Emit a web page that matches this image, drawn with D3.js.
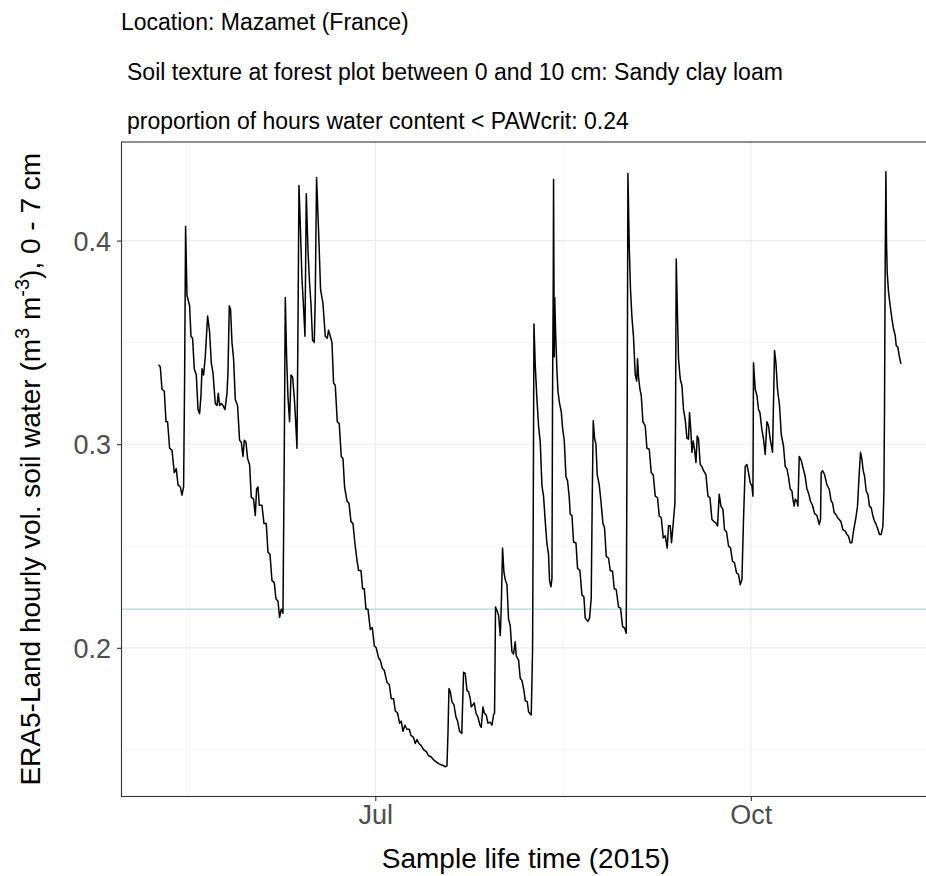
<!DOCTYPE html>
<html>
<head>
<meta charset="utf-8">
<script src="https://cdn.jsdelivr.net/npm/d3@7/dist/d3.min.js"></script>
<style>
  html, body { margin: 0; padding: 0; background: #ffffff; }
  svg { display: block; font-family: "Liberation Sans", Arial, Helvetica, sans-serif; }
</style>
</head>
<body>
<svg id="chart" width="926" height="876"></svg>
<script>
// Header lines above the panel
const headerLines = [
  "Location: Mazamet (France)",
  "Soil texture at forest plot between 0 and 10 cm: Sandy clay loam",
  "proportion of hours water content < PAWcrit: 0.24"
];

// Sample time, as days elapsed since 2015-01-01 00:00 UTC
const sampleDay = [
  127.93,128.34,128.76,129.32,129.74,130.13,130.62,131.21,131.77,132.26,132.68,133.24,133.66,134.05,134.29,134.54,134.88,135.27,135.52,135.86,
  136.25,136.67,137.16,137.58,137.97,138.31,138.56,138.95,139.36,139.93,140.42,140.83,141.25,141.81,142.23,142.55,142.87,143.28,143.70,144.19,
  144.68,144.92,145.24,145.56,145.90,146.29,146.71,147.27,147.76,148.18,148.60,148.92,149.33,149.72,150.21,150.63,151.19,151.61,151.93,152.27,
  152.59,153.25,153.74,154.30,154.72,155.21,155.70,156.26,156.68,157.17,157.56,157.98,158.39,158.71,158.96,159.28,159.62,160.01,160.35,160.75,
  161.16,161.48,161.82,162.07,162.31,162.63,163.05,163.44,163.78,164.10,164.52,164.91,165.25,165.64,166.06,166.30,166.62,167.11,167.60,168.19,
  168.75,169.24,169.56,169.98,170.39,170.79,171.20,171.69,172.18,172.67,173.09,173.48,174.07,174.56,175.05,175.54,176.03,176.52,176.91,177.50,
  177.89,178.31,178.72,179.21,179.78,180.27,180.76,181.24,181.81,182.22,182.71,183.20,183.87,184.43,184.92,185.48,185.90,186.46,186.95,187.37,
  187.78,188.27,188.76,189.33,189.74,190.38,190.80,191.21,191.70,192.27,192.83,193.49,194.05,194.64,195.28,195.94,196.60,197.34,198.14,198.56,
  198.81,199.05,199.37,199.79,200.28,200.77,201.16,201.65,202.19,202.63,203.04,203.46,203.85,204.27,204.51,204.93,205.25,205.66,206.15,206.64,
  206.96,207.38,207.70,208.19,208.60,209.17,209.58,209.97,210.22,210.46,210.88,211.20,211.62,211.86,212.18,212.52,212.84,213.26,213.65,214.06,
  214.48,214.87,215.29,215.53,216.10,216.51,216.93,217.42,217.74,218.23,218.55,219.21,219.53,219.70,219.87,220.19,220.60,221.00,221.41,221.83,
  222.22,222.64,223.05,223.44,223.69,224.03,224.28,224.42,224.60,224.67,224.84,224.96,225.16,225.50,225.75,226.14,226.56,226.87,227.29,227.71,
  228.10,228.51,228.76,229.18,229.57,230.16,230.55,231.13,231.62,232.11,232.43,233.09,233.49,233.90,234.15,234.39,234.71,235.05,235.37,235.86,
  236.28,236.77,237.16,237.58,238.14,238.56,239.12,239.54,240.03,240.59,241.08,241.57,242.06,242.47,242.72,242.89,243.21,243.53,243.87,244.26,
  244.68,245.05,245.24,245.49,245.83,246.15,246.56,247.13,247.54,248.11,248.60,249.09,249.58,250.14,250.56,251.05,251.54,252.03,252.52,252.83,
  253.25,253.57,254.06,254.40,254.55,254.72,254.97,255.28,255.70,256.12,256.51,256.93,257.34,257.73,257.98,258.32,258.57,258.88,259.20,259.55,
  259.86,260.18,260.60,261.01,261.41,262.00,262.49,262.98,263.47,263.95,264.44,264.84,265.25,265.67,266.16,266.55,267.04,267.53,268.02,268.51,
  269.00,269.49,269.98,270.40,270.81,271.20,271.62,272.04,272.43,272.85,273.26,273.51,273.65,274.07,274.49,274.88,275.22,275.71,276.10,276.52,
  276.93,277.33,277.74,278.31,278.80,279.14,279.53,280.02,280.44,281.00,281.42,281.83,282.22,282.64,283.06,283.30,283.62,283.87,284.28,284.53,
  284.85,285.34,285.83,286.32,286.73,287.12,287.61,288.10,288.59,289.18,289.74,290.06,290.23,290.55,291.04,291.63,292.19,292.68,293.00,293.42,
  293.83,294.23,294.64,295.06,295.55,296.11,296.53,296.92,297.34,297.75,298.14,298.73,299.13,299.47,299.86,300.20,300.52,300.84,301.26,301.67,
  302.06,302.48,302.90,303.29,303.70,304.12,304.51,304.93,305.35,305.59,305.74,305.91,306.08,306.23,306.40,306.72,307.13,307.55,307.94,308.36,
  308.60,309.02,309.34,309.75
];

// Volumetric soil water content (m3 m-3), 0 - 7 cm
const soilWater = [
  0.339,0.338,0.327,0.326,0.311,0.311,0.298,0.297,0.286,0.288,0.280,0.279,0.275,0.279,0.330,0.407,0.373,0.370,0.368,0.353,
  0.352,0.337,0.334,0.317,0.315,0.324,0.337,0.334,0.343,0.363,0.355,0.340,0.335,0.320,0.319,0.325,0.319,0.320,0.319,0.317,
  0.325,0.335,0.368,0.366,0.350,0.342,0.322,0.319,0.302,0.301,0.294,0.302,0.301,0.293,0.290,0.274,0.273,0.265,0.278,0.279,
  0.270,0.270,0.261,0.261,0.247,0.246,0.233,0.232,0.224,0.223,0.215,0.219,0.217,0.295,0.372,0.343,0.323,0.311,0.334,0.333,
  0.323,0.312,0.298,0.358,0.427,0.408,0.381,0.367,0.353,0.423,0.395,0.379,0.369,0.351,0.350,0.372,0.431,0.405,0.376,0.369,
  0.353,0.352,0.356,0.353,0.350,0.330,0.329,0.311,0.310,0.294,0.293,0.279,0.272,0.271,0.262,0.261,0.251,0.243,0.238,0.238,
  0.229,0.229,0.219,0.219,0.209,0.210,0.201,0.200,0.195,0.194,0.190,0.189,0.183,0.182,0.175,0.175,0.169,0.168,0.163,0.164,
  0.159,0.162,0.160,0.160,0.157,0.156,0.153,0.155,0.153,0.152,0.150,0.149,0.147,0.1465,0.145,0.144,0.143,0.1425,0.1416,0.142,
  0.158,0.180,0.1785,0.1735,0.172,0.166,0.164,0.159,0.158,0.188,0.1875,0.179,0.1785,0.175,0.171,0.172,0.173,0.168,0.166,0.162,
  0.161,0.171,0.168,0.167,0.163,0.1635,0.162,0.167,0.168,0.220,0.218,0.216,0.206,0.220,0.249,0.237,0.2335,0.231,0.214,0.211,
  0.198,0.197,0.203,0.196,0.194,0.185,0.184,0.179,0.174,0.1736,0.1686,0.167,0.199,0.268,0.359,0.3386,0.322,0.309,0.301,0.2795,
  0.2745,0.262,0.251,0.246,0.233,0.230,0.234,0.323,0.3805,0.430,0.343,0.372,0.356,0.336,0.326,0.320,0.316,0.308,0.302,0.284,
  0.282,0.274,0.2655,0.265,0.252,0.2515,0.239,0.238,0.226,0.225,0.2146,0.213,0.2146,0.2245,0.274,0.3115,0.303,0.300,0.285,0.280,
  0.272,0.261,0.259,0.245,0.244,0.238,0.2376,0.229,0.2286,0.220,0.2195,0.2105,0.2097,0.2072,0.323,0.433,0.397,0.3755,0.3624,0.3525,
  0.334,0.331,0.342,0.333,0.327,0.324,0.311,0.309,0.298,0.2975,0.286,0.285,0.2745,0.2737,0.2647,0.264,0.254,0.255,0.249,0.260,
  0.260,0.2516,0.263,0.271,0.312,0.391,0.368,0.342,0.332,0.3287,0.317,0.312,0.303,0.3025,0.3156,0.306,0.296,0.3016,0.2975,0.291,
  0.304,0.3025,0.290,0.289,0.287,0.285,0.2745,0.2737,0.263,0.262,0.2614,0.2598,0.2754,0.2696,0.268,0.258,0.257,0.250,0.249,0.2425,
  0.2417,0.2368,0.236,0.231,0.2335,0.263,0.289,0.290,0.286,0.281,0.2795,0.2745,0.340,0.327,0.324,0.317,0.3156,0.307,0.3025,0.295,
  0.311,0.309,0.3025,0.296,0.346,0.340,0.327,0.319,0.305,0.299,0.289,0.288,0.284,0.278,0.277,0.273,0.2696,0.273,0.272,0.2696,
  0.294,0.292,0.288,0.284,0.278,0.276,0.272,0.270,0.266,0.265,0.2606,0.263,0.286,0.287,0.2852,0.280,0.278,0.272,0.2713,0.2663,
  0.2655,0.264,0.263,0.262,0.258,0.2573,0.2557,0.2548,0.2516,0.2516,0.2573,0.264,0.2696,0.283,0.296,0.2926,0.287,0.2844,0.277,0.2754,
  0.2696,0.2688,0.2647,0.2622,0.2606,0.2581,0.2557,0.2557,0.2598,0.2762,0.317,0.391,0.4338,0.399,0.3846,0.3747,0.368,0.3616,0.3567,0.3534,
  0.3485,0.3476,0.3435,0.3394
];

// Critical plant-available water threshold
const pawCrit = 0.219;

// Axis breaks
const yMajor = [0.2, 0.3, 0.4];
const yMinor = [0.15, 0.25, 0.35];
const xMajor = ["2015-07-01", "2015-10-01"];
const xMajorLabels = ["Jul", "Oct"];
const xMinor = ["2015-05-16T12:00:00Z", "2015-08-16T00:00:00Z"];

const DAY = 864e5;
const origin = Date.UTC(2015, 0, 1);
const data = sampleDay.map((d, i) => ({ t: new Date(origin + d * DAY), v: soilWater[i] }));

const svg = d3.select("#chart");

// Panel box
const panel = { left: 121.5, top: 142, bottom: 796.5, right: 938 };

// Scales with 5% expansion on each side of the data range
const tExt = d3.extent(data, d => d.t);
const tPad = (tExt[1] - tExt[0]) * 0.05;
const x = d3.scaleUtc()
  .domain([new Date(+tExt[0] - tPad), new Date(+tExt[1] + tPad)])
  .range([panel.left, panel.right]);

const vExt = d3.extent(data, d => d.v);
const vPad = (vExt[1] - vExt[0]) * 0.05;
const y = d3.scaleLinear()
  .domain([vExt[0] - vPad, vExt[1] + vPad])
  .range([panel.bottom, panel.top]);

const gridColor = "#ebebeb";
const inkColor = "#333333";
const labelColor = "#4d4d4d";

// Panel background
svg.append("rect")
  .attr("x", panel.left).attr("y", panel.top)
  .attr("width", panel.right - panel.left).attr("height", panel.bottom - panel.top)
  .attr("fill", "#ffffff");

// Grid lines
const grid = svg.append("g");
grid.selectAll(".ymin").data(yMinor).join("line")
  .attr("x1", panel.left).attr("x2", panel.right)
  .attr("y1", d => y(d)).attr("y2", d => y(d))
  .attr("stroke", gridColor).attr("stroke-width", 0.55);
grid.selectAll(".xmin").data(xMinor).join("line")
  .attr("x1", d => x(new Date(d))).attr("x2", d => x(new Date(d)))
  .attr("y1", panel.top).attr("y2", panel.bottom)
  .attr("stroke", gridColor).attr("stroke-width", 0.55);
grid.selectAll(".ymaj").data(yMajor).join("line")
  .attr("x1", panel.left).attr("x2", panel.right)
  .attr("y1", d => y(d)).attr("y2", d => y(d))
  .attr("stroke", gridColor).attr("stroke-width", 1.1);
grid.selectAll(".xmaj").data(xMajor).join("line")
  .attr("x1", d => x(new Date(d))).attr("x2", d => x(new Date(d)))
  .attr("y1", panel.top).attr("y2", panel.bottom)
  .attr("stroke", gridColor).attr("stroke-width", 1.1);

// Threshold line
svg.append("line")
  .attr("x1", panel.left).attr("x2", panel.right)
  .attr("y1", y(pawCrit)).attr("y2", y(pawCrit))
  .attr("stroke", "#add8e6").attr("stroke-width", 1.1);

// Soil water series
const line = d3.line()
  .x(d => x(d.t))
  .y(d => y(d.v));
svg.append("path")
  .datum(data)
  .attr("d", line)
  .attr("fill", "none")
  .attr("stroke", "#000000")
  .attr("stroke-width", 1.5)
  .attr("stroke-linejoin", "round");

// Panel border
svg.append("rect")
  .attr("x", panel.left).attr("y", panel.top)
  .attr("width", panel.right - panel.left).attr("height", panel.bottom - panel.top)
  .attr("fill", "none")
  .attr("stroke", inkColor).attr("stroke-width", 1.1);

// Y axis
const yAxis = d3.axisLeft(y)
  .tickValues(yMajor)
  .tickSize(4.5)
  .tickPadding(6)
  .tickFormat(d3.format(".1f"));
const gy = svg.append("g")
  .attr("transform", `translate(${panel.left},0)`)
  .call(yAxis);
gy.select(".domain").remove();
gy.selectAll(".tick line").attr("stroke", inkColor).attr("stroke-width", 1.1);
gy.selectAll(".tick text")
  .attr("fill", labelColor)
  .style("font-size", "27px")
  .attr("dy", "0.36em");

// X axis
const xAxis = d3.axisBottom(x)
  .tickValues(xMajor.map(d => new Date(d)))
  .tickSize(4.5)
  .tickPadding(4)
  .tickFormat((d, i) => xMajorLabels[i]);
const gx = svg.append("g")
  .attr("transform", `translate(0,${panel.bottom})`)
  .call(xAxis);
gx.select(".domain").remove();
gx.selectAll(".tick line").attr("stroke", inkColor).attr("stroke-width", 1.1);
gx.selectAll(".tick text")
  .attr("fill", labelColor)
  .style("font-size", "27px");

// Axis titles
svg.append("text")
  .attr("x", (panel.left + 926) / 2 + 2)
  .attr("y", 868)
  .attr("text-anchor", "middle")
  .attr("fill", "#000000")
  .style("font-size", "28px")
  .text("Sample life time (2015)");

const yTitle = svg.append("text")
  .attr("transform", `translate(40,${(panel.top + panel.bottom) / 2}) rotate(-90)`)
  .attr("text-anchor", "middle")
  .attr("fill", "#000000")
  .style("font-size", "28px");
yTitle.append("tspan").text("ERA5-Land hourly vol. soil water (m");
yTitle.append("tspan").attr("baseline-shift", "super").style("font-size", "20px").text("3");
yTitle.append("tspan").text(" m");
yTitle.append("tspan").attr("baseline-shift", "super").style("font-size", "20px").text("-3");
yTitle.append("tspan").text("), 0 - 7 cm");

// Header lines
const headerX = [121, 127, 127];
const headerY = [30, 80, 129];
svg.selectAll(".hdr").data(headerLines).join("text")
  .attr("x", (d, i) => headerX[i])
  .attr("y", (d, i) => headerY[i])
  .attr("fill", "#000000")
  .style("font-size", "23px")
  .text(d => d);
</script>
</body>
</html>
